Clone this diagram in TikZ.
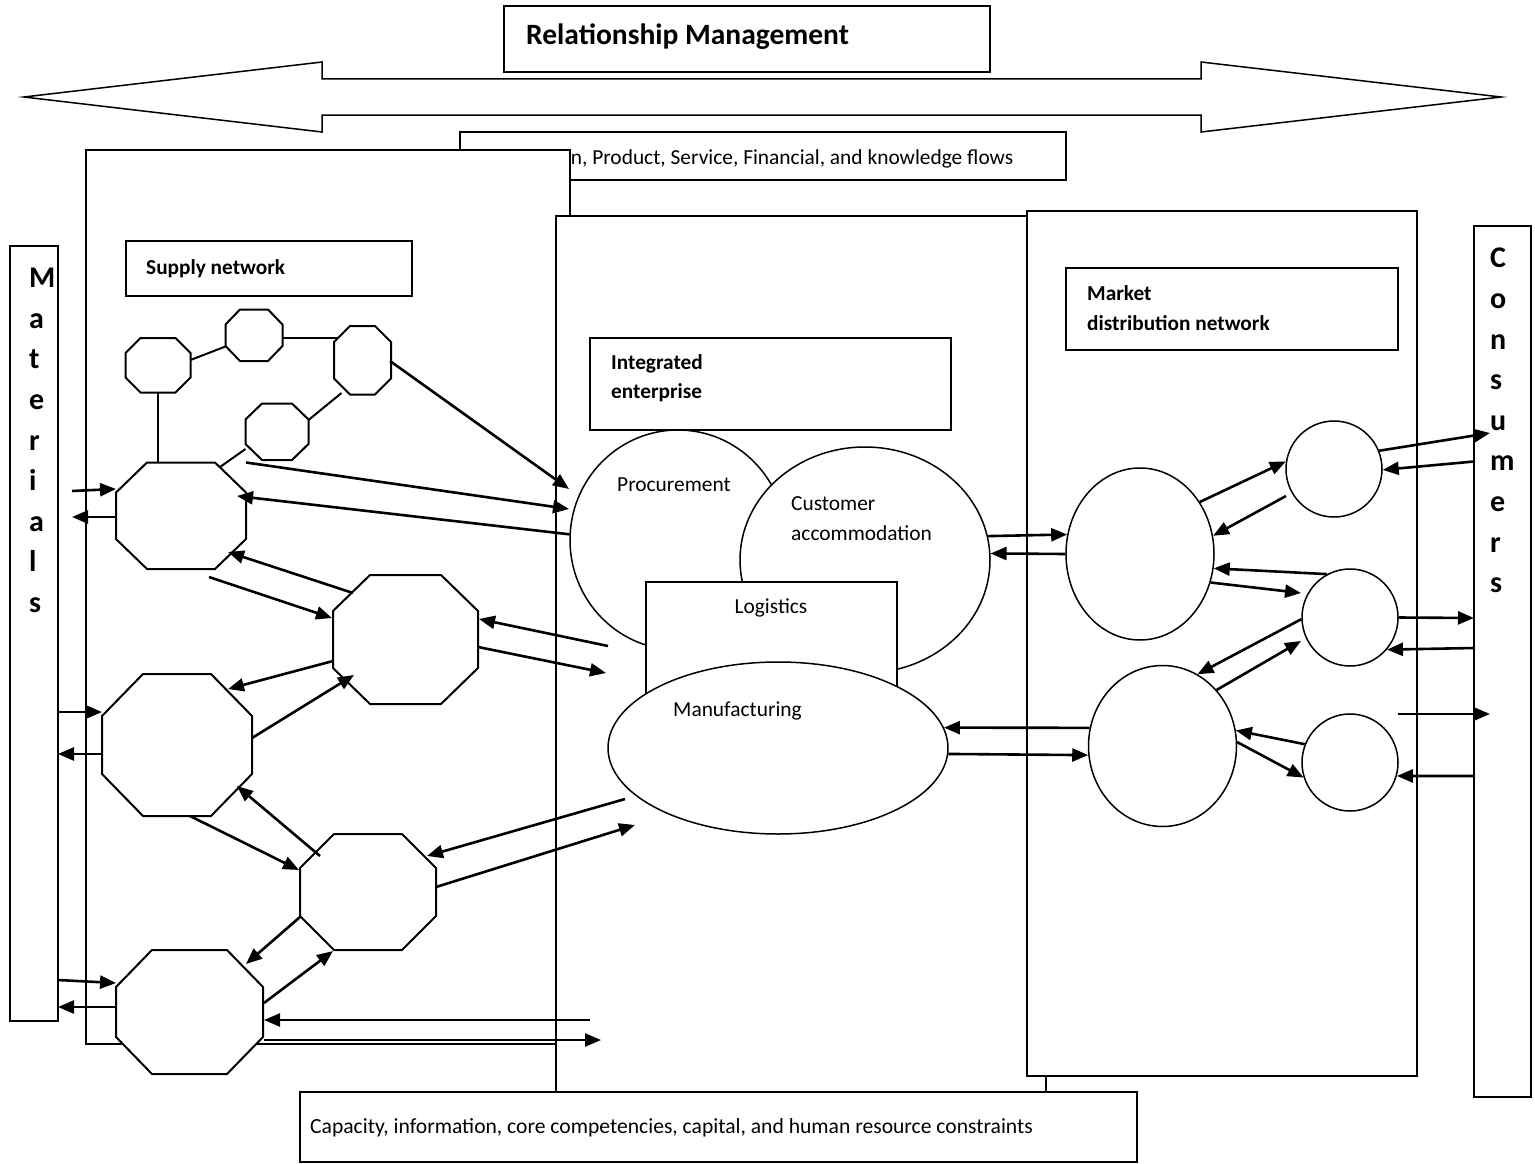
\documentclass[tikz,border=0pt]{standalone}
\usepackage{fontspec}
\setmainfont{Carlito}
\usetikzlibrary{arrows.meta,shapes.geometric}

\tikzset{
  frame/.style={draw, line width=1.5pt, fill=white, inner sep=0pt},
  blob/.style={ellipse, draw, line width=1.5pt, fill=white, inner sep=0pt},
  octo/.style={line width=2pt, fill=white},
  link/.style={line width=2pt},
  flow/.style={line width=2.6pt, -{Triangle[length=16pt,width=13pt]}},
  lbl/.style={inner sep=0pt, anchor=base west, font=\fontsize{21.4}{29}\selectfont},
  blbl/.style={inner sep=0pt, anchor=base west, font=\bfseries\fontsize{21.3}{29}\selectfont},
  column/.style={inner sep=0pt, anchor=north west, align=left,
                 font=\bfseries\fontsize{30}{40.6}\selectfont},
}

% rectangular panel: name, left, top, right, bottom
\newcommand{\panel}[5]{%
  \node[frame, minimum width={(#4-#2)*1pt}, minimum height={(#5-#3)*1pt}]
    (#1) at ({(#2+#4)/2},{(#3+#5)/2}) {};}

% octagon: name, left, top, right, bottom, corner cut x, corner cut y
\newcommand{\octa}[7]{%
  \path ({#2+#6},{#3}) coordinate (#1-1) ({#4-#6},{#3}) coordinate (#1-2)
        ({#4},{#3+#7}) coordinate (#1-3) ({#4},{#5-#7}) coordinate (#1-4)
        ({#4-#6},{#5}) coordinate (#1-5) ({#2+#6},{#5}) coordinate (#1-6)
        ({#2},{#5-#7}) coordinate (#1-7) ({#2},{#3+#7}) coordinate (#1-8);
  \draw[octo] (#1-1) -- (#1-2) -- (#1-3) -- (#1-4) -- (#1-5) -- (#1-6)
              -- (#1-7) -- (#1-8) -- cycle;
  \node[inner sep=0pt, minimum width={(#4-#2)*1pt}, minimum height={(#5-#3)*1pt}]
    (#1) at ({(#2+#4)/2},{(#3+#5)/2}) {};}

\begin{document}
\begin{tikzpicture}[x=1pt,y=-1pt]
\useasboundingbox (0,0) rectangle (1535,1164);
\fill[white] (0,0) rectangle (1535,1164);

% ---- relationship management banner
\panel{rmBox}{504}{6}{990}{72}
\node[blbl, font=\bfseries\fontsize{29.5}{34}\selectfont] (rmText) at (526,45) {Relationship Management};
\draw[line width=1.5pt, fill=white] (24,97) -- (322,62) -- (322,79) -- (1201,79) -- (1201,62)
  -- (1501,97) -- (1201,132) -- (1201,115) -- (322,115) -- (322,132) -- cycle;

% ---- flows strip
\panel{flowBox}{460}{132}{1066}{180}
\node[lbl] (flowText) at (479,164) {Information, Product, Service, Financial, and knowledge flows};

% ---- main panels
\panel{supply}{86}{150}{570}{1044}
\panel{enterprise}{556}{216}{1046}{1100}
\panel{market}{1027}{211}{1417}{1076}
\panel{limits}{300}{1092}{1137}{1162}
\node[lbl, font=\fontsize{21.6}{29}\selectfont] (limitsText) at (310,1133) {Capacity, information, core competencies, capital, and human resource constraints};

% ---- end columns
\panel{materials}{10}{246}{58}{1021}
\node[column] (matText) at (29,268) {M\\a\\t\\e\\r\\i\\a\\l\\s};
\panel{consumers}{1474}{226}{1531}{1097}
\node[column] (conText) at (1490,248) {C\\o\\n\\s\\u\\m\\e\\r\\s};

% ---- titles
\panel{supplyTitle}{126}{241}{412}{296}
\node[blbl] (supplyText) at (146,274) {Supply network};
\panel{entTitle}{590}{338}{951}{430}
\node[blbl] (entTextA) at (611,369) {Integrated};
\node[blbl] (entTextB) at (611,398) {enterprise};
\panel{mktTitle}{1066}{268}{1398}{350}
\node[blbl] (mktTextA) at (1087,300) {Market};
\node[blbl] (mktTextB) at (1087,330) {distribution network};

% ---- enterprise functions
\node[blob, minimum width=216pt, minimum height=220pt] (proc) at (678,540) {};
\node[blob, minimum width=250pt, minimum height=226pt] (cust) at (865,560) {};
\node[frame, minimum width=251pt, minimum height=130pt] (logi) at (771.5,647) {};
\node[blob, minimum width=340pt, minimum height=172pt] (manu) at (778,748) {};
\node[lbl] (procText) at (617,491) {Procurement};
\node[lbl] (custTextA) at (791,510) {Customer};
\node[lbl] (custTextB) at (791,540) {accommodation};
\node[lbl, anchor=base] (logiText) at (771,613) {Logistics};
\node[lbl] (manuText) at (673,716) {Manufacturing};

% ---- market distribution nodes
\node[blob, minimum width=148pt, minimum height=172pt] (m1) at (1140,554) {};
\node[blob, minimum width=148pt, minimum height=161pt] (m2) at (1162.5,746) {};
\node[blob, minimum width=96pt, minimum height=96pt] (c1) at (1334,469) {};
\node[blob, minimum width=96pt, minimum height=97pt] (c2) at (1350,617.5) {};
\node[blob, minimum width=96pt, minimum height=97pt] (c3) at (1350,762.5) {};

% ---- supplier network
\octa{sA}{125.5}{338}{190.5}{392.5}{15}{15}
\octa{sB}{225.5}{309.5}{282.5}{361}{14.5}{15}
\octa{sC}{334}{326}{391}{394.5}{16}{16}
\octa{sD}{245.5}{403.5}{308.5}{460}{16.5}{16}
\octa{nA}{116}{462.5}{246}{569}{31}{30}
\octa{nB}{333}{575}{478}{704}{37}{36}
\octa{nC}{102}{674}{252}{816}{41}{42}
\octa{nD}{300}{834}{436}{950}{34}{34}
\octa{nE}{116}{950}{263}{1074}{36}{37}

% free connector ends
\foreach \n/\x/\y in {
  l2s/190.5/360, l2e/225.5/346.5, l3s/282.5/337.5, l3e/337/337.5,
  l4s/341.5/393, l4e/308.5/420, l5s/245.5/449, l5e/220/467,
  a7s/390/361, a7e/569/489, a8s/246/462.5, a8e/569/509, a9e/237/496,
  a10s/353/593, a10e/228/552, a11s/209/577, a11e/332/618,
  a12s/608/646, a12e/479/619, a13s/478/647, a13e/606/673,
  a14s/72/491, a14e/116/489, a15s/116/517, a15e/72/517,
  a16s/333/661, a16e/228/689, a17s/252/738, a17e/354/675,
  a18s/58/712, a18e/102/712, a19s/102/754, a19e/58/754,
  a20s/190/816, a20e/299/870, a21s/320/856, a21e/237/786,
  a22s/625/799, a22e/427/856, a23s/436/887, a23e/635/825,
  a24s/300/917, a24e/246/964, a25s/264/1003, a25e/333/951,
  a26s/58/980, a26e/116/983, a27s/116/1007, a27e/58/1007,
  a28s/590/1020, a28e/264/1020, a29s/264/1040, a29e/601/1040,
  a35s/1286/496, a37e/1301/593, a39e/1301/641,
  a42e/1490/433, a43s/1474/461.5, a44e/1474/618, a45s/1474/648,
  a46s/1398/714, a46e/1490/714, a47s/1474/776}
  \coordinate (\n) at (\x,\y);

% plain links between suppliers
\draw[link] (sA.south) -- (sA.south |- nA.north);
\draw[link] (l2s) -- (l2e);
\draw[link] (l3s) -- (l3e);
\draw[link] (l4s) -- (l4e);
\draw[link] (l5s) -- (l5e);

% supply side flows
\draw[flow] (a7s) -- (a7e);
\draw[flow] (a8s) -- (a8e);
\draw[flow] (proc.177) -- (a9e);
\draw[flow] (a10s) -- (a10e);
\draw[flow] (a11s) -- (a11e);
\draw[flow] (a12s) -- (a12e);
\draw[flow] (a13s) -- (a13e);
\draw[flow] (a14s) -- (a14e);
\draw[flow] (a15s) -- (a15e);
\draw[flow] (a16s) -- (a16e);
\draw[flow] (a17s) -- (a17e);
\draw[flow] (a18s) -- (a18e);
\draw[flow] (a19s) -- (a19e);
\draw[flow] (a20s) -- (a20e);
\draw[flow] (a21s) -- (a21e);
\draw[flow] (a22s) -- (a22e);
\draw[flow] (a23s) -- (a23e);
\draw[flow] (a24s) -- (a24e);
\draw[flow] (a25s) -- (a25e);
\draw[flow] (a26s) -- (a26e);
\draw[flow] (a27s) -- (a27e);
\draw[flow] (a28s) -- (a28e);
\draw[flow] (a29s) -- (a29e);

% market side flows
\draw[flow] (cust.11) -- (m1.165);
\draw[flow] (m1.west) -- (cust.3);
\draw[flow] (m2.166) -- (manu.7);
\draw[flow] (manu.-2) -- (m2.187);
\draw[flow] (m1.41) -- (c1.171);
\draw[flow] (a35s) -- (m1.14);
\draw[flow] (c2.118) -- (m1.-11);
\draw[flow] (m1.-22) -- (a37e);
\draw[flow] (c2.182) -- (m2.64);
\draw[flow] (m2.46) -- (a39e);
\draw[flow] (c3.158) -- (m2.12);
\draw[flow] (m2.3) -- (c3.198);
\draw[flow] (c1.22) -- (a42e);
\draw[flow] (a43s) -- (c1.-1);
\draw[flow] (c2.east) -- (a44e);
\draw[flow] (a45s) -- (c2.-41);
\draw[flow] (a46s) -- (a46e);
\draw[flow] (a47s) -- (c3.-16);
\end{tikzpicture}
\end{document}
